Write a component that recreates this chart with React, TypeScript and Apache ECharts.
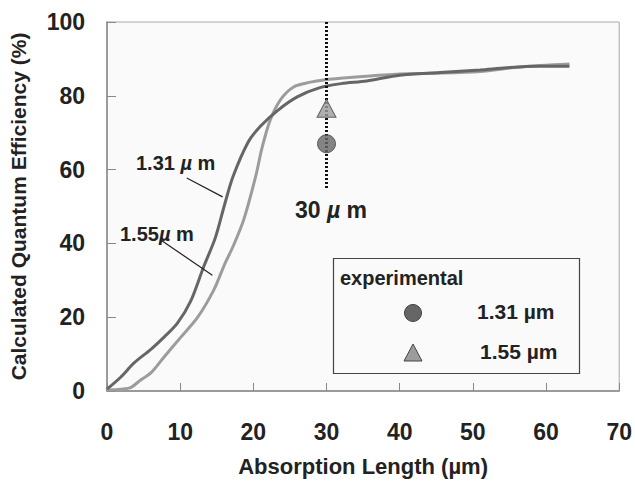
import React, { useEffect, useRef } from "react";
import * as echarts from "echarts";

const xTicks = [0, 10, 20, 30, 40, 50, 60, 70];
const yTicks = [0, 20, 40, 60, 80, 100];

// Calculated QE at 1.31 µm: [absorption length µm, QE %]
const qe131: [number, number][] = [
  [0, 0.5], [1.9, 3.8], [3.7, 7.6], [6, 11.3], [7.8, 14.6], [9.6, 18.3], [11.4, 24.2],
  [13.2, 33.6], [14.8, 41.5], [16, 50], [17.2, 58], [19.3, 67.5], [21, 71.8],
  [23.3, 76], [26, 79.7], [29.1, 82.2], [32, 83.3], [35.5, 84], [40, 85.6],
  [45.5, 86.3], [51, 87], [54.6, 87.6], [58.7, 88], [63.2, 88]
];
// Calculated QE at 1.55 µm
const qe155: [number, number][] = [
  [0, 0.3], [2, 0.5], [3.3, 1], [4.6, 3], [6, 4.9], [7.8, 9.2], [10.1, 14.6],
  [12.4, 20], [14.6, 27.4], [16, 34], [17.3, 39.5], [18.7, 46.5], [20.3, 58],
  [21.2, 66], [22.3, 73.4], [23.7, 78.9], [25.5, 82.4], [27.8, 83.7], [29.6, 84.3],
  [33.6, 85], [40, 85.9], [45, 86.1], [51, 86.6], [56.4, 87.8], [63.2, 88.6]
];
// Experimental points at 30 µm
const exp131: [number, number][] = [[30, 67]];
const exp155: [number, number][] = [[30, 76.6]];
// Dotted marker line at 30 µm
const marker30: [number, number][] = [[30, 55], [30, 100]];
// Leader lines for curve labels
const leader131: [number, number][] = [[10.9, 57.7], [15.8, 52.6]];
const leader155: [number, number][] = [[7.35, 40.9], [14.4, 31.4]];

const FONT = "'Liberation Sans', Arial, sans-serif";
const DARK = "#666666";
const LIGHT = "#9c9c9c";

export default function App() {
  const ref = useRef<HTMLDivElement>(null);
  useEffect(() => {
    if (!ref.current) return;
    const chart = echarts.init(ref.current, undefined, { renderer: "svg" });
    const textBase = { fontFamily: FONT, fontWeight: "bold" as const, fill: "#222" };
    const muRich = {
      mu: { fontFamily: FONT, fontWeight: "bold" as const, fontStyle: "italic" as const, fontSize: 20, fill: "#222" }
    };
    chart.setOption({
      animation: false,
      backgroundColor: "#ffffff",
      grid: {
        left: 106, top: 22, right: 15, bottom: 92,
        show: true, backgroundColor: "#fafafa", borderColor: "#a8a8a8", borderWidth: 1,
        containLabel: false
      },
      xAxis: {
        type: "value", min: 0, max: 70, interval: 10,
        name: "Absorption Length (µm)", nameLocation: "middle", nameGap: 64,
        nameTextStyle: { fontFamily: FONT, fontWeight: "bold", fontSize: 22, color: "#222" },
        axisLine: { show: true, lineStyle: { color: "#888", width: 1.5 } },
        axisTick: { show: true, inside: true, length: 8, lineStyle: { color: "#888" } },
        axisLabel: {
          fontFamily: FONT, fontWeight: "bold", fontSize: 23, color: "#222", margin: 29,
          formatter: (v: number) => (xTicks.includes(v) ? String(v) : "")
        },
        splitLine: { show: false }
      },
      yAxis: {
        type: "value", min: 0, max: 100, interval: 20,
        name: "Calculated Quantum Efficiency (%)", nameLocation: "middle", nameGap: 78,
        nameTextStyle: { fontFamily: FONT, fontWeight: "bold", fontSize: 21, color: "#222" },
        axisLine: { show: true, lineStyle: { color: "#888", width: 1.5 } },
        axisTick: { show: true, inside: true, length: 9, lineStyle: { color: "#888" } },
        axisLabel: {
          fontFamily: FONT, fontWeight: "bold", fontSize: 23, color: "#222", margin: 22,
          formatter: (v: number) => (yTicks.includes(v) ? String(v) : "")
        },
        splitLine: { show: false }
      },
      series: [
        {
          name: "1.55 µm (calc)", type: "line", data: qe155, showSymbol: false, smooth: 0.3,
          lineStyle: { color: LIGHT, width: 3 }, z: 2
        },
        {
          name: "1.31 µm (calc)", type: "line", data: qe131, showSymbol: false, smooth: 0.3,
          lineStyle: { color: DARK, width: 3 }, z: 3
        },
        {
          name: "30 µm", type: "line", data: marker30, showSymbol: false,
          lineStyle: { color: "#111", width: 3, type: [2, 2] }, z: 4
        },
        {
          name: "leader131", type: "line", data: leader131, showSymbol: false,
          lineStyle: { color: "#222", width: 1.2 }, z: 4
        },
        {
          name: "leader155", type: "line", data: leader155, showSymbol: false,
          lineStyle: { color: "#222", width: 1.2 }, z: 4
        },
        {
          name: "1.31 µm", type: "scatter", data: exp131, symbol: "circle", symbolSize: 18,
          itemStyle: { color: DARK, borderColor: "#444", borderWidth: 1 }, z: 5
        },
        {
          name: "1.55 µm", type: "scatter", data: exp155, symbol: "triangle", symbolSize: [19, 18],
          itemStyle: { color: LIGHT, borderColor: "#444", borderWidth: 1 }, z: 5
        }
      ],
      graphic: [
        {
          type: "text", x: 136, y: 153,
          style: { ...textBase, text: "1.31 {mu|µ} m", fontSize: 20, rich: muRich }
        },
        {
          type: "text", x: 120, y: 224,
          style: { ...textBase, text: "1.55{mu|µ} m", fontSize: 20, rich: muRich }
        },
        {
          type: "text", x: 295, y: 198,
          style: {
            ...textBase, text: "30 {mu|µ} m", fontSize: 23,
            rich: { mu: { ...muRich.mu, fontSize: 23 } }
          }
        },
        {
          type: "rect", shape: { x: 333.5, y: 258.5, width: 246, height: 115 },
          style: { fill: "#fafafa", stroke: "#444", lineWidth: 1.2 }, z: 10
        },
        { type: "text", x: 340, y: 268, z: 11, style: { ...textBase, text: "experimental", fontSize: 20 } },
        {
          type: "circle", shape: { cx: 413, cy: 313, r: 8.5 }, z: 11,
          style: { fill: DARK, stroke: "#444", lineWidth: 1 }
        },
        {
          type: "polygon", shape: { points: [[413, 344], [404, 361], [422, 361]] }, z: 11,
          style: { fill: LIGHT, stroke: "#444", lineWidth: 1 }
        },
        { type: "text", x: 477, y: 301, z: 11, style: { ...textBase, text: "1.31 µm", fontSize: 21 } },
        { type: "text", x: 480, y: 341, z: 11, style: { ...textBase, text: "1.55 µm", fontSize: 21 } }
      ]
    });
    return () => chart.dispose();
  }, []);
  return <div ref={ref} style={{ width: 635, height: 483, position: "absolute", left: 0, top: 0 }} />;
}
